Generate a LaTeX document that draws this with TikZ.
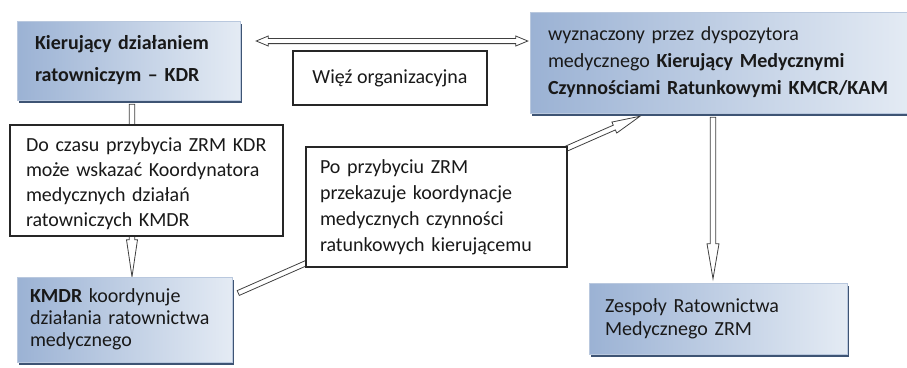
\documentclass[tikz,border=0pt]{standalone}
\usepackage{fontspec}
\setmainfont{Carlito}
\usetikzlibrary{calc,backgrounds}
\pgfdeclarelayer{paper}
\pgfsetlayers{paper,background,main}
\definecolor{boxL}{RGB}{155,178,212}
\definecolor{boxR}{RGB}{228,235,244}
\definecolor{boxEdge}{RGB}{185,200,222}
\definecolor{shad}{RGB}{62,84,116}
\definecolor{txt}{RGB}{25,25,25}
% single-headed hollow arrow: #1 start, #2 end, #3 head length, #4 head half width, #5 shaft half width
\newcommand{\harrow}[5]{%
  \draw[arrline] let \p1=(#1), \p2=(#2),
    \n1={atan2(\y2-\y1,\x2-\x1)}, \n2={veclen(\x2-\x1,\y2-\y1)} in
    [shift={(\p1)}, rotate=\n1]
    (0,#5) -- (\n2-#3,#5) -- (\n2-#3,#4) -- (\n2,0) -- (\n2-#3,-#4)
    -- (\n2-#3,-#5) -- (0,-#5) -- cycle;}
% double-headed hollow arrow
\newcommand{\dharrow}[5]{%
  \draw[arrline] let \p1=(#1), \p2=(#2),
    \n1={atan2(\y2-\y1,\x2-\x1)}, \n2={veclen(\x2-\x1,\y2-\y1)} in
    [shift={(\p1)}, rotate=\n1]
    (0,0) -- (#3,#4) -- (#3,#5) -- (\n2-#3,#5) -- (\n2-#3,#4) -- (\n2,0)
    -- (\n2-#3,-#4) -- (\n2-#3,-#5) -- (#3,-#5) -- (#3,-#4) -- cycle;}
\begin{document}
\begin{tikzpicture}[x=1pt,y=-1pt,
  every node/.style={font=\fontsize{20}{24}\selectfont, text=txt},
  bluebox/.style={draw=boxEdge, line width=0.5pt, left color=boxL, right color=boxR,
    align=left, inner ysep=0pt},
  whitebox/.style={draw=black!85, line width=1.1pt, fill=white, inner ysep=0pt},
  arrline/.style={draw=black!75, fill=white, line width=0.8pt, line join=miter}]
\begin{pgfonlayer}{paper}
  \fill[white] (0,0) rectangle (907,367);
\end{pgfonlayer}
\useasboundingbox (0,0) rectangle (907,367);

% blue boxes
\node[bluebox, minimum width=223pt, minimum height=79pt, inner xsep=18pt, text width=187pt,
  font=\fontsize{20}{32}\selectfont] (kdr) at (128.5,60.5)
  {\textbf{Kierujący działaniem}\\\textbf{ratowniczym – KDR}};
\node[bluebox, minimum width=382pt, minimum height=101pt, inner xsep=18pt, text width=346pt,
  font=\fontsize{20}{27}\selectfont] (kmcr) at (721,62.5)
  {wyznaczony przez dyspozytora\\medycznego \textbf{Kierujący Medycznymi}\\\textbf{Czynnościami Ratunkowymi KMCR/KAM}};
\node[bluebox, minimum width=215pt, minimum height=85pt, inner xsep=13pt, text width=189pt,
  font=\fontsize{20}{22}\selectfont] (kmdr) at (124.5,319.5)
  {\textbf{KMDR} koordynuje\\działania ratownictwa\\medycznego};
\node[bluebox, minimum width=258pt, minimum height=71pt, inner xsep=16pt, text width=226pt,
  font=\fontsize{20}{23}\selectfont] (zrm) at (718,318.5)
  {Zespoły Ratownictwa\\Medycznego ZRM};

% white boxes
\node[whitebox, minimum width=194pt, minimum height=54pt, align=center] (wiez) at (390,78)
  {Więź organizacyjna};
\node[whitebox, minimum width=273pt, minimum height=111pt, inner xsep=16pt, text width=241pt,
  align=left, font=\fontsize{20}{25}\selectfont] (docz) at (146.5,180.5)
  {\rule{0pt}{20pt}Do czasu przybycia ZRM KDR\\może wskazać Koordynatora\\medycznych działań\\ratowniczych KMDR};
\node[whitebox, minimum width=261pt, minimum height=120pt, inner xsep=14pt, text width=233pt,
  align=left, font=\fontsize{20}{26}\selectfont] (po) at (436.5,207)
  {Po przybyciu ZRM\\przekazuje koordynacje\\medycznych czynności\\ratunkowych kierującemu};

\begin{pgfonlayer}{background}
  % shadows of the blue boxes
  \foreach \b in {kdr,kmcr,kmdr,zrm}{
    \fill[shad] ([shift={(2,3)}]\b.south west) rectangle ([shift={(2,3)}]\b.north east);
  }
  % connectors
  \dharrow{[shift={(16,-19.5)}]kdr.east}{[shift={(-2,-21.5)}]kmcr.west}{12}{5}{2.6}
  \harrow{[shift={(3.5,4)}]kdr.south}{[shift={(7.5,0)}]kmdr.north}{37}{5.5}{2.8}
  \harrow{[shift={(6,-26.5)}]kmdr.east}{[shift={(-81,3)}]kmcr.south}{28}{6}{2.6}
  \harrow{[shift={(-8,4)}]kmcr.south}{[shift={(-5,-4)}]zrm.north}{35}{6}{2.8}
\end{pgfonlayer}
\end{tikzpicture}
\end{document}
